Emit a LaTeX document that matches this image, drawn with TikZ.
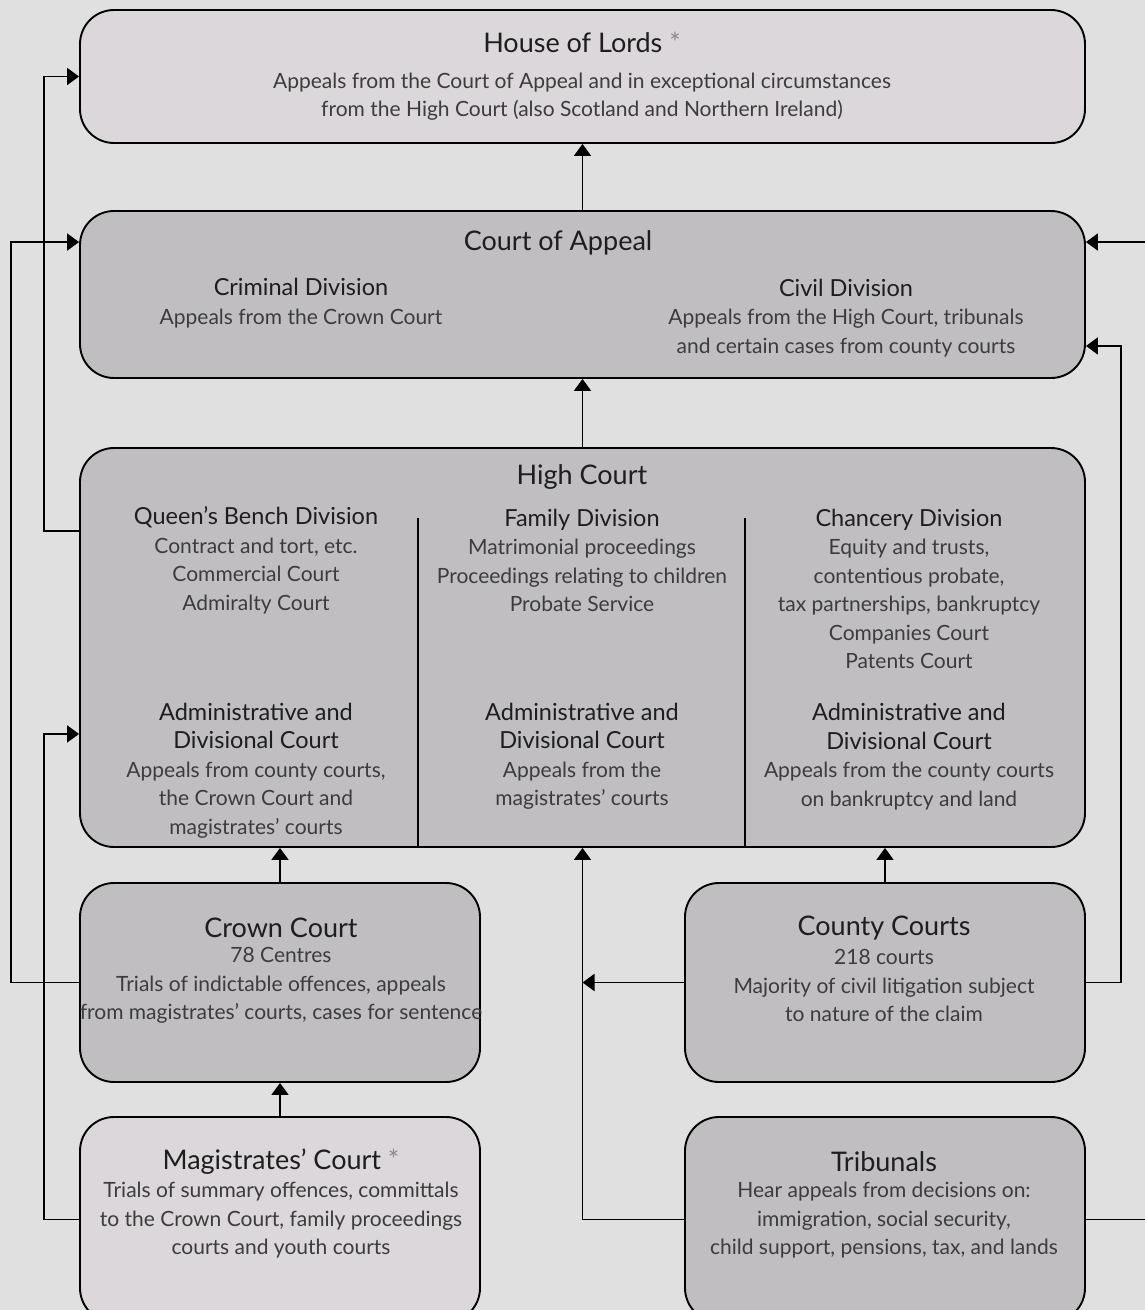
\documentclass[tikz,border=0pt]{standalone}
\usepackage{fontspec}
\setmainfont{Lato}
\usetikzlibrary{arrows.meta,positioning,calc}

\definecolor{bgc}{HTML}{E0E0E0}
\definecolor{lightc}{HTML}{DCD7DA}
\definecolor{grayc}{HTML}{C0BEC1}
\definecolor{headc}{HTML}{1E1E1E}
\definecolor{bodyc}{HTML}{3C3C3C}
\definecolor{starc}{HTML}{8A8A8A}

\newcommand{\hd}[1]{{\fontsize{23.5}{29}\selectfont\color{headc}#1}}

\tikzset{
  court/.style={draw, line width=1.9pt, rounded corners=34pt, inner sep=0pt},
  lightcourt/.style={court, fill=lightc},
  graycourt/.style={court, fill=grayc},
  title/.style={font=\fontsize{27}{30}\selectfont, text=headc},
  body/.style={align=center, font=\fontsize{21}{28.5}\selectfont, text=bodyc, inner sep=0pt},
  link/.style={line width=1.9pt, -{Triangle[length=12pt,width=17pt]}},
}

\begin{document}
\begin{tikzpicture}[x=1pt, y=-1pt]
  \useasboundingbox (0,0) rectangle (1145,1310);
  \clip (0,0) rectangle (1145,1310);
  \fill[bgc] (0,0) rectangle (1145,1310);

  % 法院方框
  \node[lightcourt, minimum width=1005pt, minimum height=133pt] (lords) at (582.5,76.5) {};
  \node[graycourt, minimum width=1005pt, minimum height=167pt] (appeal) at (582.5,294.5) {};
  \node[graycourt, minimum width=1005pt, minimum height=399pt] (high) at (582.5,647.5) {};
  \node[graycourt, minimum width=400pt, minimum height=199pt] (crown) at (280,982.5) {};
  \node[graycourt, minimum width=400pt, minimum height=199pt] (county) at (885,982.5) {};
  \node[lightcourt, minimum width=400pt, minimum height=205pt] (mags) at (280,1219.5) {};
  \node[graycourt, minimum width=400pt, minimum height=205pt] (trib) at (885,1219.5) {};

  % 高等法院分栏
  \draw[line width=1.9pt] (418,518) -- (418,847);
  \draw[line width=1.9pt] (745,518) -- (745,847);

  % 文字
  \node[title] (lordsT) at (582,42) {House of Lords {\color{starc}*}};
  \node[body] (lordsB) at (582,96.5) {Appeals from the Court of Appeal and in exceptional circumstances\\from the High Court (also Scotland and Northern Ireland)};

  \node[title] (appealT) at (558,243) {Court of Appeal};
  \node[body] (crim) at (301,303) {\hd{Criminal Division}\\Appeals from the Crown Court};
  \node[body] (civil) at (846,318) {\hd{Civil Division}\\Appeals from the High Court, tribunals\\and certain cases from county courts};

  \node[title] (highT) at (582,477) {High Court};
  \node[body] (qbd) at (256,560.5) {\hd{Queen's Bench Division}\\Contract and tort, etc.\\Commercial Court\\Admiralty Court};
  \node[body] (fam) at (582,560.5) {\hd{Family Division}\\Matrimonial proceedings\\Proceedings relating to children\\Probate Service};
  \node[body] (chan) at (909,589) {\hd{Chancery Division}\\Equity and trusts,\\contentious probate,\\tax partnerships, bankruptcy\\Companies Court\\Patents Court};
  \node[body] (adm1) at (256,770.5) {\hd{Administrative and}\\\hd{Divisional Court}\\Appeals from county courts,\\the Crown Court and\\magistrates' courts};
  \node[body] (adm2) at (582,756.5) {\hd{Administrative and}\\\hd{Divisional Court}\\Appeals from the\\magistrates' courts};
  \node[body] (adm3) at (909,756.5) {\hd{Administrative and}\\\hd{Divisional Court}\\Appeals from the county courts\\on bankruptcy and land};

  \node[title] (crownT) at (281,928) {Crown Court};
  \node[body] (crownB) at (281,985.5) {78 Centres\\Trials of indictable offences, appeals\\from magistrates' courts, cases for sentence};
  \node[title] (countyT) at (884,928) {County Courts};
  \node[body] (countyB) at (884,985.5) {218 courts\\Majority of civil litigation subject\\to nature of the claim};
  \node[title] (magsT) at (281,1162) {Magistrates' Court {\color{starc}*}};
  \node[body] (magsB) at (281,1220.5) {Trials of summary offences, committals\\to the Crown Court, family proceedings\\courts and youth courts};
  \node[title] (tribT) at (884,1162) {Tribunals};
  \node[body] (tribB) at (884,1220.5) {Hear appeals from decisions on:\\immigration, social security,\\child support, pensions, tax, and lands};

  % 上诉路线
  \draw[link] (appeal.north) -- (lords.south);
  \draw[link] (high.north) -- (appeal.south);
  \draw[link] (crown.north) -- (crown.north |- high.south);
  \draw[link] (mags.north) -- (crown.south);
  \draw[link] (county.north) -- (county.north |- high.south);
  \draw[link] ([yshift=-84pt]high.north west) -- ++(-35,0) |- (lords.west);
  \draw[link] (crown.west) -- ++(-68,0) |- ([yshift=-32pt]appeal.north west);
  \draw[link] (mags.west) -- ++(-35,0) |- ([yshift=114pt]high.south west);
  \draw[link] (trib.west) -| (high.south);
  \draw[link] (county.west) -- (county.west -| high.south);
  \draw[link] (county.east) -- ++(35,0) |- ([yshift=33pt]appeal.south east);
  \draw[link] (trib.east) -- ++(62,0) |- ([yshift=-32pt]appeal.north east);
\end{tikzpicture}
\end{document}
